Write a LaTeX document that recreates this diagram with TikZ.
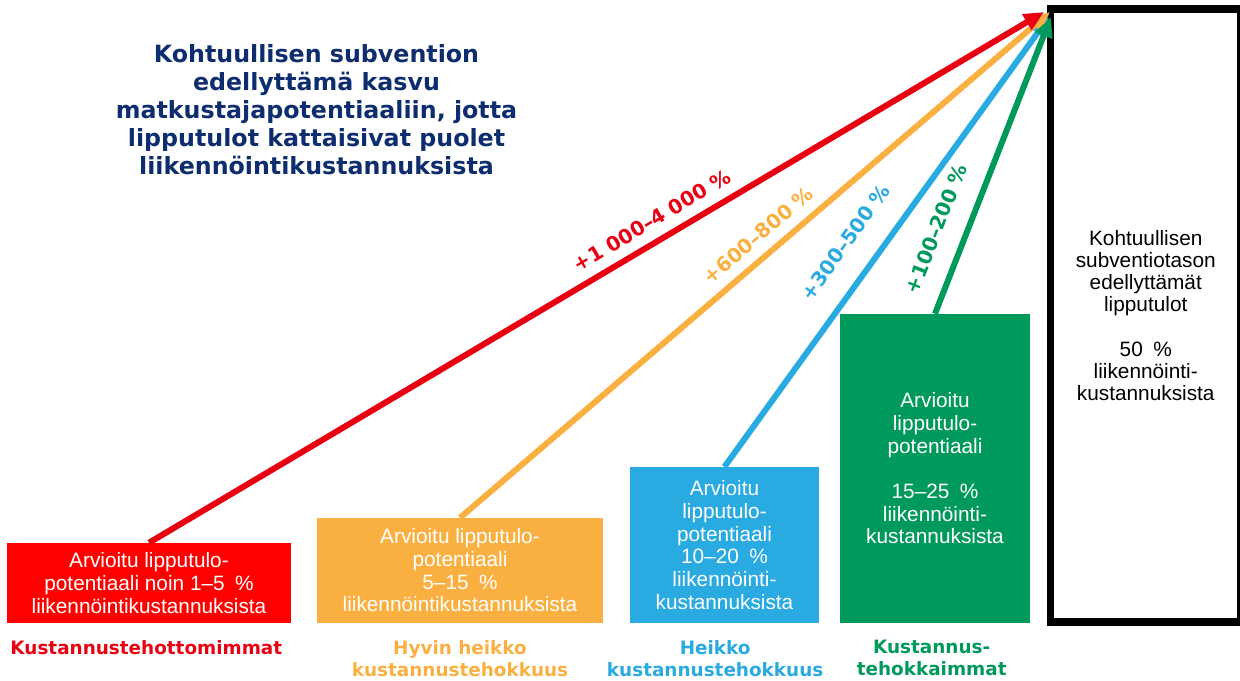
\documentclass[tikz,border=0pt]{standalone}
\usepackage{fontspec}
\setmainfont{Liberation Sans}
\newfontfamily\headfont{DejaVu Sans}
\usetikzlibrary{positioning,arrows.meta}

\definecolor{titleblue}{RGB}{13,45,110}
\definecolor{boxred}{RGB}{255,0,0}
\definecolor{arrred}{RGB}{232,0,18}
\definecolor{orng}{RGB}{250,176,64}
\definecolor{skyblue}{RGB}{41,170,225}
\definecolor{grn}{RGB}{0,153,92}

% wide gap before the percent sign in the box texts
\newcommand{\wpct}{\hspace{0.5em}\%}

\tikzset{
  potbox/.style={text=white, align=center, inner sep=0pt, font=\fontsize{15.6}{17}\selectfont},
  classlabel/.style={align=center, inner sep=0pt, font=\headfont\bfseries\fontsize{13.8}{16.5}\selectfont},
  growth/.style={line width=4.5pt, -{Triangle[length=15pt,width=13pt]}},
  pct/.style={sloped, inner sep=0pt, font=\headfont\bfseries\fontsize{15}{18}\selectfont}
}

\begin{document}
\begin{tikzpicture}[x=0.75pt,y=-0.75pt]
\useasboundingbox (0,0) rectangle (1240,681);

\node[font=\headfont\bfseries\fontsize{17.8}{21}\selectfont, text=titleblue, align=center, inner sep=0pt] (title) at (316.5,110)
  {Kohtuullisen subvention\\ edellyttämä kasvu\\ matkustajapotentiaaliin, jotta\\ lipputulot kattaisivat puolet\\ liikennöintikustannuksista};

% potential boxes
\node[potbox, fill=boxred, minimum width=213pt, minimum height=60pt] (redbox) at (149,583)
  {Arvioitu lipputulo-\\ potentiaali noin 1–5\wpct\\ liikennöintikustannuksista};
\node[potbox, fill=orng, minimum width=214.5pt, minimum height=78.75pt] (orangebox) at (460,570.5)
  {Arvioitu lipputulo-\\ potentiaali\\ 5–15\wpct\\ liikennöintikustannuksista};
\node[potbox, fill=skyblue, minimum width=141.75pt, minimum height=117pt] (bluebox) at (724.5,545)
  {Arvioitu\\ lipputulo-\\ potentiaali\\ 10–20\wpct\\ liikennöinti-\\ kustannuksista};
\node[potbox, fill=grn, minimum width=142.5pt, minimum height=231.75pt] (greenbox) at (935,468.5)
  {Arvioitu\\ lipputulo-\\ potentiaali\\[17pt] 15–25\wpct\\ liikennöinti-\\ kustannuksista};

% target level
\node[draw=black, line width=5.6pt, align=center, inner sep=0pt, minimum width=142.9pt, minimum height=459.75pt,
  font=\fontsize{15.6}{16.6}\selectfont] (target) at (1145.75,315.5)
  {Kohtuullisen\\ subventiotason\\ edellyttämät\\ lipputulot\\[16.6pt] 50\wpct\\ liikennöinti-\\ kustannuksista};

% class labels
\node[classlabel, text=arrred, below=12.5pt of redbox, xshift=-2pt] (redlabel) {Kustannustehottomimmat};
\node[classlabel, text=orng, below=12.5pt of orangebox] (orangelabel) {Hyvin heikko\\ kustannustehokkuus};
\node[classlabel, text=skyblue, below=12.5pt of bluebox, xshift=-7pt] (bluelabel) {Heikko\\ kustannustehokkuus};
\node[classlabel, text=grn, below=12.5pt of greenbox, xshift=-2.5pt] (greenlabel) {Kustannus-\\ tehokkaimmat};

% arrow tips at the corner of the target box
\coordinate (tipred) at (1044,12);
\coordinate (tiporange) at (1050,12);
\coordinate (tipblue) at (1049,17);
\coordinate (tipgreen) at (1051,17);

\draw[growth, skyblue] (bluebox.north) -- node[pct, pos=0.456, above=17pt] {+300–500~\%} (tipblue);
\draw[growth, orng] (orangebox.north) -- node[pct, pos=0.528, above=7.3pt] {+600–800~\%} (tiporange);
\draw[growth, grn] (greenbox.north) -- node[pct, pos=0.25, above=14.5pt] {+100–200~\%} (tipgreen);
\draw[growth, arrred] (redbox.north) -- node[pct, pos=0.574, above=7.5pt] {+1~000–4~000~\%} (tipred);

\end{tikzpicture}
\end{document}
